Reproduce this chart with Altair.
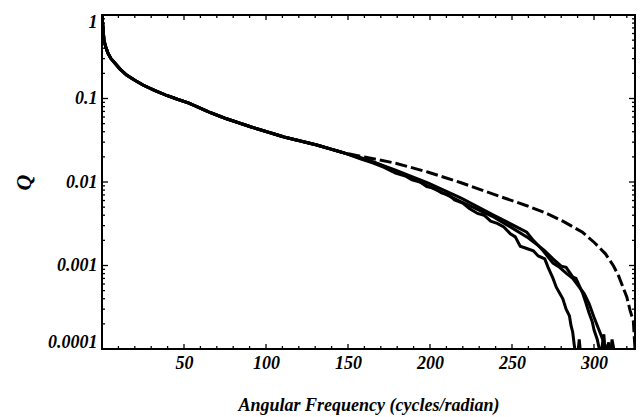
import altair as alt
import pandas as pd

# ---- data ----
# common part shared by all curves
COMMON_X = [0, 0.5, 1.2, 2.2, 3.6, 5.5, 7.8, 11, 15, 20, 25, 32, 39, 46, 53, 65, 75, 91, 111, 131, 148]
COMMON_Q = [1.0, 0.75, 0.50, 0.42, 0.35, 0.30, 0.266, 0.225, 0.191, 0.165, 0.145, 0.125, 0.110, 0.098,
            0.088, 0.069, 0.058, 0.0456, 0.0346, 0.0277, 0.0222]

# solid curve A (upper, smoother)
A_X = [160, 167, 179, 199, 219, 239, 259, 263, 269, 275, 279, 283, 287, 291, 294, 297, 300, 303, 306, 308, 310, 311, 313]
A_Q = [0.0186, 0.0169, 0.0139, 0.0097, 0.0064, 0.0040, 0.0025, 0.0020, 0.0015, 0.00107, 0.00095, 0.00081,
       0.00070, 0.00055, 0.00046, 0.00035, 0.00024, 0.00017, 0.00012, 0.0001, 0.00008, 0.00013, 0.00008]

# solid curve B (middle)
B_X = [160, 170, 179, 189, 199, 209, 219, 229, 239, 249, 259, 265, 270, 275, 280, 283, 287, 289, 293, 295,
       297, 299, 300, 302, 303, 304, 306, 307, 309, 310]
B_Q = [0.0190, 0.0160, 0.0135, 0.0112, 0.0089, 0.0072, 0.0058, 0.0047, 0.0038, 0.0029, 0.0022, 0.0018,
       0.0015, 0.0012, 0.00098, 0.00095, 0.00073, 0.00070, 0.00047, 0.00036, 0.00027, 0.00021, 0.00017,
       0.00013, 0.000105, 0.00008, 0.00015, 0.00008, 0.00012, 0.00008]

# solid curve C (lower, noisy)
C_X = [158, 165, 172, 179, 185, 189, 194, 198, 203, 207, 211, 215, 220, 224, 229, 233, 237, 241, 245, 249,
       252, 255, 259, 263, 266, 270, 272, 275, 277, 279, 281, 283, 285, 286, 287, 288, 289, 290, 291, 292]
C_Q = [0.0188, 0.0170, 0.0150, 0.0128, 0.0118, 0.0106, 0.0100, 0.0088, 0.0084, 0.0074, 0.0071, 0.0061,
       0.0056, 0.0048, 0.0042, 0.0040, 0.0034, 0.0032, 0.0029, 0.0024, 0.0022, 0.0017, 0.0016, 0.0015,
       0.0013, 0.0012, 0.00095, 0.0007, 0.00055, 0.00047, 0.00040, 0.00030, 0.00025, 0.00019, 0.00016,
       0.00011, 0.00008, 0.00008, 0.00013, 0.00008]

# dashed curve
D_X = [160, 167, 179, 199, 219, 239, 259, 270, 281, 293, 300, 307, 312, 315, 318, 320, 322, 324, 325]
D_Q = [0.0199, 0.0187, 0.0168, 0.0131, 0.0098, 0.0071, 0.0052, 0.0043, 0.0034, 0.0025, 0.0019,
       0.00138, 0.00098, 0.00075, 0.00053, 0.00042, 0.00029, 0.000215, 0.0001]

X_LABELS = [50, 100, 150, 200, 250, 300]
X_MINOR = [10, 20, 30, 40, 60, 70, 80, 90, 110, 120, 130, 140, 160, 170, 180, 190, 210, 220, 230, 240,
           260, 270, 280, 290, 310, 320]
Y_LABELS = [0.0001, 0.001, 0.01, 0.1, 1]
Y_MINOR = [k * d for d in [0.0001, 0.001, 0.01, 0.1] for k in range(2, 10)]

# ---- tables ----
rows = []
for name, xs, qs in [("A", A_X, A_Q), ("B", B_X, B_Q), ("C", C_X, C_Q)]:
    for x, q in zip(COMMON_X + xs, COMMON_Q + qs):
        rows.append({"x": x, "q": q, "series": name})
solid = pd.DataFrame(rows)
dashed = pd.DataFrame({"x": COMMON_X + D_X, "q": COMMON_Q + D_Q})

W, H = 533, 334
FONT = "Liberation Serif"

xs = alt.Scale(domain=[0, 325], nice=False, zero=False)
ys = alt.Scale(type="log", domain=[0.0001, 1], nice=False)

xaxis = alt.Axis(values=X_LABELS, title="Angular Frequency (cycles/radian)", grid=False, domain=False,
                 ticks=False, labelFont=FONT, labelFontStyle="italic", labelFontWeight="bold",
                 labelFontSize=18, labelColor="black", labelPadding=5, titleFont=FONT,
                 titleFontStyle="italic", titleFontWeight="bold", titleFontSize=18, titleColor="black",
                 titlePadding=24)
yaxis = alt.Axis(values=Y_LABELS, format=".4~f", title="Q", grid=False, domain=False, ticks=False,
                 labelFlush=True, labelFlushOffset=2, labelFont=FONT, labelFontStyle="italic",
                 labelFontWeight="bold", labelFontSize=18, labelColor="black", labelPadding=5,
                 titleFont=FONT, titleFontStyle="italic", titleFontWeight="bold", titleFontSize=22,
                 titleColor="black", titlePadding=12)

X = alt.X("x:Q", scale=xs, axis=xaxis)
Y = alt.Y("q:Q", scale=ys, axis=yaxis)

solid_layer = alt.Chart(solid).mark_line(color="black", strokeWidth=3.0, clip=True).encode(
    x=X, y=Y, detail="series:N")
dash_layer = alt.Chart(dashed).mark_line(color="black", strokeWidth=3.0, strokeDash=[12, 4], clip=True).encode(
    x=X, y=Y)

xt_major = pd.DataFrame({"x": X_LABELS})
xt_minor = pd.DataFrame({"x": X_MINOR})
yt_major = pd.DataFrame({"q": Y_LABELS})
yt_minor = pd.DataFrame({"q": Y_MINOR})

def xticks(df, ln):
    bottom = alt.Chart(df).mark_rule(color="black", strokeWidth=1.3).encode(
        x=X, y=alt.value(H), y2=alt.value(H - ln))
    top = alt.Chart(df).mark_rule(color="black", strokeWidth=1.3).encode(
        x=X, y=alt.value(0), y2=alt.value(ln))
    return [bottom, top]

def yticks(df, ln):
    left = alt.Chart(df).mark_rule(color="black", strokeWidth=1.3).encode(
        y=Y, x=alt.value(0), x2=alt.value(ln))
    right = alt.Chart(df).mark_rule(color="black", strokeWidth=1.3).encode(
        y=Y, x=alt.value(W), x2=alt.value(W - ln))
    return [left, right]

layers = ([solid_layer, dash_layer] + xticks(xt_major, 5) + xticks(xt_minor, 3)
          + yticks(yt_major, 6) + yticks(yt_minor, 3))

chart = alt.layer(*layers).properties(
    width=W, height=H,
    autosize=alt.AutoSizeParams(type="none"),
    padding={"left": 94, "top": 7, "right": 1, "bottom": 68},
    background="white",
).configure_view(stroke="black", strokeWidth=2)

chart.save("out.html", embed_options={"renderer": "svg", "actions": False})
